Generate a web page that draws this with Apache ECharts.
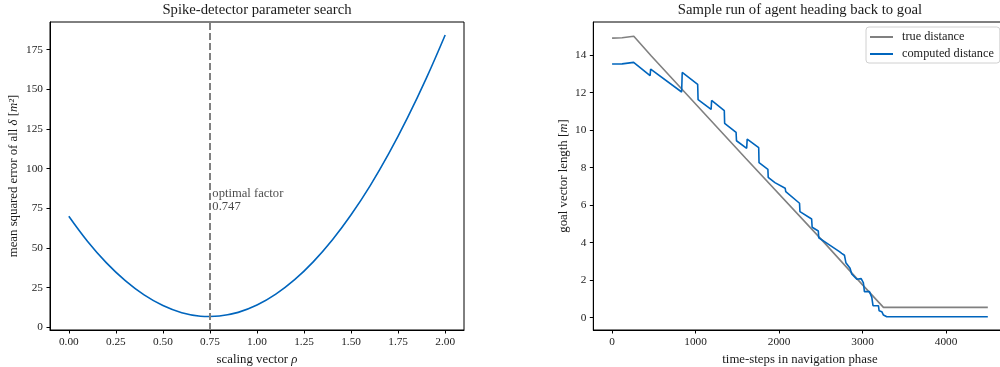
<!DOCTYPE html>
<html>
<head>
<meta charset="utf-8">
<script src="https://cdn.jsdelivr.net/npm/echarts@6/dist/echarts.min.js"></script>
<style>html,body{margin:0;padding:0;background:#fff;}#c{width:1000px;height:367px;}</style>
</head>
<body>
<div id="c"></div>
<script>
// ---- Left chart data ----
const rhoValues = [0.0, 0.1, 0.2, 0.3, 0.4, 0.5, 0.6, 0.7, 0.747, 0.8, 0.9, 1.0, 1.1, 1.2, 1.3, 1.4, 1.5, 1.6, 1.7, 1.8, 1.9, 2.0];
const mseValues = [70.0, 54.1, 40.6, 29.4, 20.4, 13.7, 9.2, 7.0, 6.8, 7.1, 9.4, 14.0, 20.9, 30.0, 41.4, 55.0, 70.9, 89.0, 109.4, 132.1, 157.0, 184.2];
const optimalFactor = 0.747;
const leftXTicks = [0, 0.25, 0.5, 0.75, 1.0, 1.25, 1.5, 1.75, 2.0];
const leftYTicks = [0, 25, 50, 75, 100, 125, 150, 175];

// ---- Right chart data ----
const trueSteps = [0, 120, 260, 470, 1600, 2500, 3000, 3250, 4500];
const trueDist  = [14.9, 14.92, 15.0, 13.95, 8.5, 4.2, 1.75, 0.55, 0.55];
const compSteps = [0, 120, 258, 455, 462, 833, 840, 1025, 1030, 1186, 1192, 1344, 1348, 1485, 1490, 1612, 1618, 1756, 1760, 1866, 1870, 1950, 1970, 2073, 2080, 2245, 2250, 2390, 2396, 2470, 2475, 2562, 2578, 2723, 2750, 2783, 2800, 2850, 2870, 2931, 2983, 3010, 3022, 3082, 3110, 3125, 3190, 3198, 3230, 3250, 3290, 4500];
const compDist  = [13.52, 13.53, 13.61, 12.9, 13.25, 12.03, 13.07, 12.44, 11.62, 11.1, 11.58, 11.03, 10.36, 9.88, 9.43, 9.03, 9.52, 9.06, 8.26, 7.91, 7.48, 7.2, 7.25, 6.9, 6.72, 6.1, 5.65, 5.26, 4.82, 4.62, 4.26, 4.0, 4.07, 3.52, 3.43, 3.33, 2.93, 2.63, 2.33, 2.05, 2.08, 1.85, 1.39, 1.39, 1.09, 0.64, 0.64, 0.37, 0.32, 0.14, 0.05, 0.05];
const rightXTicks = [0, 1000, 2000, 3000, 4000];
const rightYTicks = [0, 2, 4, 6, 8, 10, 12, 14];

const FONT = 'Liberation Serif';
const BLUE = '#0065BD';
const GREY = '#808080';
const TXT = '#1a1a1a';

const zip = (a, b) => a.map((v, i) => [v, b[i]]);

function valueAxis(extra) {
  return Object.assign({
    type: 'value',
    splitLine: { show: false },
    axisLine: { show: true, onZero: false, lineStyle: { color: '#000', width: 1 } },
    nameLocation: 'middle',
    nameTextStyle: { color: TXT, fontFamily: FONT, fontSize: 12.8,
      rich: { i: { fontStyle: 'italic', fontFamily: FONT, fontSize: 12.8, color: TXT } } }
  }, extra);
}
function ticks(vals) {
  return { show: true, inside: false, length: 3.5, lineStyle: { color: '#000', width: 1 }, customValues: vals };
}
function labels(vals, fmt) {
  return { color: TXT, fontFamily: FONT, fontSize: 11.3, margin: 7, customValues: vals, formatter: fmt };
}

const chart = echarts.init(document.getElementById('c'), null, { renderer: 'canvas' });
chart.setOption({
  animation: false,
  backgroundColor: '#fff',
  title: [
    { text: 'Spike-detector parameter search', left: 257, top: 3, textAlign: 'center', padding: 0,
      textStyle: { fontFamily: FONT, fontWeight: 'normal', fontSize: 14.7, color: TXT } },
    { text: 'Sample run of agent heading back to goal', left: 800, top: 3, textAlign: 'center', padding: 0,
      textStyle: { fontFamily: FONT, fontWeight: 'normal', fontSize: 14.7, color: TXT } }
  ],
  grid: [
    { left: 50, top: 22, width: 414, height: 308, show: true, borderColor: '#000', borderWidth: 1,
      backgroundColor: 'transparent', outerBoundsMode: 'none', containLabel: false },
    { left: 593.3, top: 22, width: 413.3, height: 308, show: true, borderColor: '#000', borderWidth: 1,
      backgroundColor: 'transparent', outerBoundsMode: 'none', containLabel: false }
  ],
  legend: {
    data: ['true distance', 'computed distance'],
    orient: 'vertical',
    left: 866, top: 27,
    padding: [4, 6, 3, 4],
    icon: 'rect',
    itemWidth: 23, itemHeight: 2, itemGap: 5,
    backgroundColor: '#fff', borderColor: '#d0d0d0', borderWidth: 1, borderRadius: 3,
    textStyle: { fontFamily: FONT, fontSize: 12.3, color: TXT, padding: [0, 0, 0, 4] }
  },
  xAxis: [
    valueAxis({ gridIndex: 0, min: -0.1, max: 2.1,
      name: 'scaling vector {i|ρ}', nameGap: 20,
      axisTick: ticks(leftXTicks), axisLabel: labels(leftXTicks, v => v.toFixed(2)) }),
    valueAxis({ gridIndex: 1, min: -225, max: 4725,
      name: 'time-steps in navigation phase', nameGap: 20,
      axisTick: ticks(rightXTicks), axisLabel: labels(rightXTicks, v => String(Math.round(v))) })
  ],
  yAxis: [
    valueAxis({ gridIndex: 0, min: -1.7, max: 192.4,
      name: 'mean squared error of all {i|δ} [{i|m²}]', nameGap: 30, nameRotate: 90,
      axisTick: ticks(leftYTicks), axisLabel: labels(leftYTicks, v => String(Math.round(v))) }),
    valueAxis({ gridIndex: 1, min: -0.656, max: 15.76,
      name: 'goal vector length [{i|m}]', nameGap: 23, nameRotate: 90,
      axisTick: ticks(rightYTicks), axisLabel: labels(rightYTicks, v => String(Math.round(v))) })
  ],
  series: [
    {
      type: 'line', xAxisIndex: 0, yAxisIndex: 0, symbol: 'none', smooth: 0.4,
      data: zip(rhoValues, mseValues),
      lineStyle: { color: BLUE, width: 1.6 },
      markLine: {
        silent: true, symbol: ['none', 'none'], label: { show: false },
        lineStyle: { color: GREY, width: 2, type: [7, 3] },
        data: [{ xAxis: optimalFactor }]
      },
      z: 2
    },
    {
      type: 'scatter', xAxisIndex: 0, yAxisIndex: 0, symbolSize: 0.1,
      itemStyle: { color: 'transparent' }, silent: true,
      data: [[optimalFactor + 0.016, 72]],
      label: { show: true, position: [0, 0], align: 'left', verticalAlign: 'bottom',
        formatter: 'optimal factor\n' + optimalFactor.toFixed(3),
        fontFamily: FONT, fontSize: 12.6, lineHeight: 13, color: TXT }
    },
    {
      name: 'true distance', type: 'line', xAxisIndex: 1, yAxisIndex: 1, symbol: 'none',
      data: zip(trueSteps, trueDist), lineStyle: { color: GREY, width: 1.6 }, itemStyle: { color: GREY }
    },
    {
      name: 'computed distance', type: 'line', xAxisIndex: 1, yAxisIndex: 1, symbol: 'none',
      data: zip(compSteps, compDist), lineStyle: { color: BLUE, width: 1.6 }, itemStyle: { color: BLUE }
    }
  ]
});
</script>
</body>
</html>
